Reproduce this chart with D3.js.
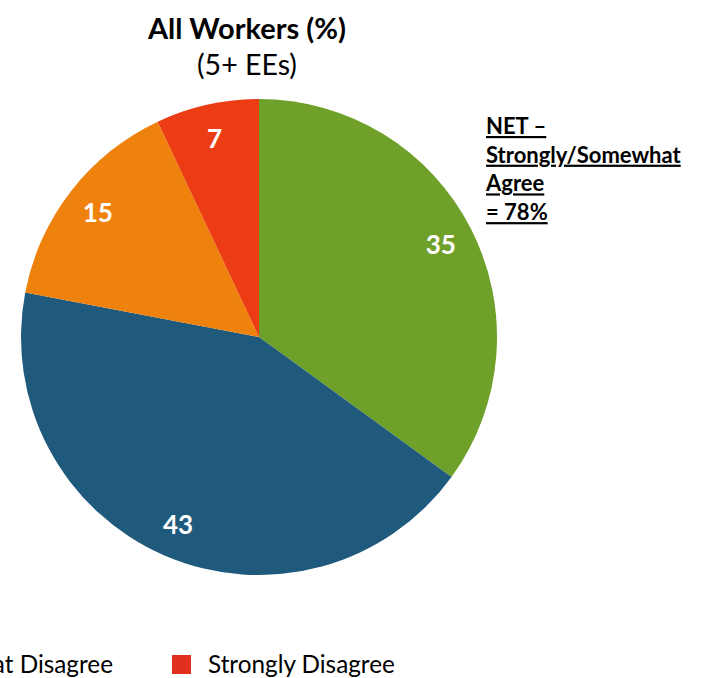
<!DOCTYPE html>
<html>
<head>
<meta charset="utf-8">
<script src="https://cdn.jsdelivr.net/npm/d3@7"></script>
<style>
  html, body { margin: 0; padding: 0; background: #fff; overflow: hidden; }
  svg { display: block; font-family: Lato, "Open Sans", "Liberation Sans", sans-serif; }
</style>
</head>
<body>
<svg id="chart" width="704" height="678"></svg>
<script>
// Survey response shares, clockwise from 12 o'clock
const categories = ["Strongly Agree", "Somewhat Agree", "Somewhat Disagree", "Strongly Disagree"];
const values = [35, 43, 15, 7];
const colors = ["#6FA12A", "#1F5A7D", "#EF820D", "#EC3C14"];
const legendColors = ["#6FA12A", "#1F5A7D", "#EF820D", "#E0301E"];
const titleLines = ["All Workers (%)", "(5+ EEs)"];
const netLines = ["NET \u2013", "Strongly/Somewhat", "Agree", "= 78%"];

const svg = d3.select("#chart");
const cx = 259, cy = 337, radius = 238;

// Title
svg.append("text")
  .attr("x", 247).attr("y", 39)
  .attr("text-anchor", "middle")
  .attr("font-size", 29).attr("font-weight", 700).attr("fill", "#000")
  .text(titleLines[0]);
svg.append("text")
  .attr("x", 247).attr("y", 75)
  .attr("text-anchor", "middle")
  .attr("font-size", 28.5).attr("fill", "#000")
  .text(titleLines[1]);

// Pie
const pie = d3.pie().sort(null).value(d => d.value);
const data = categories.map((c, i) => ({ name: c, value: values[i], color: colors[i] }));
const arcs = pie(data);
const arc = d3.arc().innerRadius(0).outerRadius(radius);
const labelArc = d3.arc().innerRadius(radius * 0.857).outerRadius(radius * 0.857);

const g = svg.append("g").attr("transform", `translate(${cx},${cy})`);
g.selectAll("path.slice")
  .data(arcs)
  .join("path")
  .attr("class", "slice")
  .attr("d", arc)
  .attr("fill", d => d.data.color);

g.selectAll("text.val")
  .data(arcs)
  .join("text")
  .attr("class", "val")
  .attr("transform", d => `translate(${labelArc.centroid(d)})`)
  .attr("text-anchor", "middle")
  .attr("dominant-baseline", "central")
  .attr("font-size", 26).attr("font-weight", 700).attr("fill", "#fff")
  .text(d => d.data.value);

// NET annotation
const net = svg.append("g");
netLines.forEach((t, i) => {
  net.append("text")
    .attr("x", 486).attr("y", 134 + i * 28.7)
    .attr("font-size", 22).attr("font-weight", 700).attr("fill", "#000")
    .attr("text-decoration", "underline")
    .text(t);
});

// Legend, laid out right-to-left from the last item
const legend = svg.append("g");
const fs = 24.3, sw = 19, gapText = 17, gapItem = 59;
const measure = svg.append("text").attr("font-size", fs).attr("visibility", "hidden");
const widths = categories.map(c => measure.text(c).node().getComputedTextLength());
measure.remove();
let x = 172;
const positions = [];
for (let i = categories.length - 1; i >= 0; i--) {
  positions[i] = x;
  if (i > 0) x = x - gapItem - widths[i - 1] - gapText - sw;
}
categories.forEach((c, i) => {
  // entries that fall entirely left of the canvas are skipped
  if (positions[i] + sw + gapText + widths[i] < 0) return;
  legend.append("rect")
    .attr("x", positions[i]).attr("y", 655)
    .attr("width", sw).attr("height", sw)
    .attr("fill", legendColors[i]);
  legend.append("text")
    .attr("x", positions[i] + sw + gapText).attr("y", 673)
    .attr("font-size", fs).attr("fill", "#000")
    .text(c);
});
</script>
</body>
</html>
